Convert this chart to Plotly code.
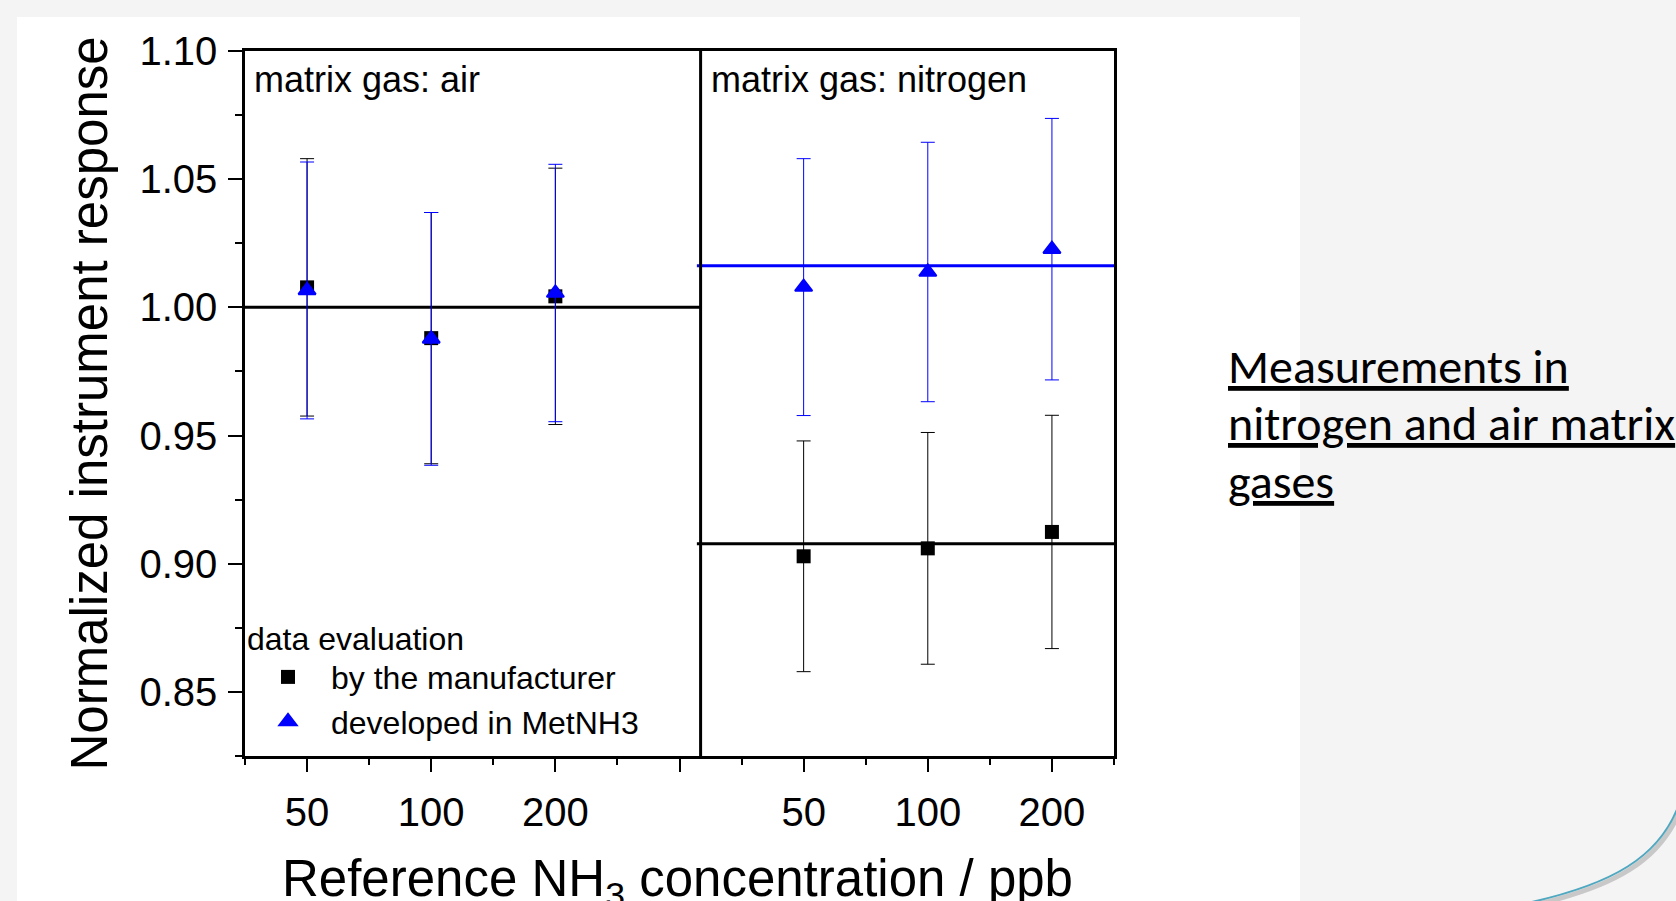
import plotly.graph_objects as go

# ---------------- data ----------------
categories = ["50", "100", "200"]
x_air = [1, 2, 3]
x_n2 = [5, 6, 7]
x_tick_vals = [1, 2, 3, 4, 5, 6, 7]
x_tick_text = ["50", "100", "200", "", "50", "100", "200"]

air_manufacturer = [1.0078, 0.9880, 1.0043]
air_manufacturer_err = [0.0502, 0.0490, 0.0500]
air_metnh3 = [1.0066, 0.9877, 1.0056]
air_metnh3_err = [0.0501, 0.0493, 0.0502]

n2_manufacturer = [0.9029, 0.9060, 0.9124]
n2_manufacturer_err = [0.0450, 0.0452, 0.0455]
n2_metnh3 = [1.0079, 1.0138, 1.0227]
n2_metnh3_err = [0.0501, 0.0506, 0.0510]

air_mean = 1.000
n2_manufacturer_mean = 0.9078
n2_metnh3_mean = 1.0162

panel_split = 4.17
x_range = [0.5, 7.5]
y_range = [0.825, 1.10]
y_tick_vals = [0.85, 0.90, 0.95, 1.00, 1.05, 1.10]
y_tick_text = ["0.85", "0.90", "0.95", "1.00", "1.05", "1.10"]

# ---------------- layout helpers ----------------
W_PX, H_PX = 1676, 901
L, R, T, B = 245, 1114, 51, 756
PW, PH = R - L, B - T


def px(x):
    return (x - L) / PW


def py(y):
    return (B - y) / PH


ARIAL = "Liberation Sans, Arial, sans-serif"
BLUE = "#0000ff"

fig = go.Figure()

# mean lines
fig.add_trace(go.Scatter(x=[x_range[0], panel_split], y=[air_mean, air_mean], mode="lines",
                         line=dict(color="black", width=3), showlegend=False, hoverinfo="skip"))
fig.add_trace(go.Scatter(x=[panel_split - 0.03, x_range[1]], y=[n2_manufacturer_mean] * 2, mode="lines",
                         line=dict(color="black", width=3), showlegend=False, hoverinfo="skip"))
fig.add_trace(go.Scatter(x=[panel_split - 0.03, x_range[1]], y=[n2_metnh3_mean] * 2, mode="lines",
                         line=dict(color=BLUE, width=3), showlegend=False, hoverinfo="skip"))

# manufacturer (black squares)
fig.add_trace(go.Scatter(
    x=x_air + x_n2, y=air_manufacturer + n2_manufacturer, mode="markers",
    name="by the manufacturer",
    marker=dict(symbol="square", size=14, color="black"),
    error_y=dict(type="data", array=air_manufacturer_err + n2_manufacturer_err,
                 color="black", thickness=1, width=7),
))
# MetNH3 (blue triangles)
fig.add_trace(go.Scatter(
    x=x_air + x_n2, y=air_metnh3 + n2_metnh3, mode="markers",
    name="developed in MetNH3",
    marker=dict(symbol="triangle-up", size=15, color=BLUE, line=dict(color=BLUE, width=2)),
    error_y=dict(type="data", array=air_metnh3_err + n2_metnh3_err,
                 color=BLUE, thickness=1, width=7),
))

shapes = [
    # white slide panel
    dict(type="rect", xref="paper", yref="paper", x0=px(17), x1=px(1300), y0=py(17), y1=py(905),
         fillcolor="white", line=dict(width=0), layer="below"),
    # panel divider
    dict(type="line", xref="x", yref="paper", x0=panel_split, x1=panel_split, y0=0, y1=1,
         line=dict(color="black", width=3)),
]


# decorative arc bottom right (shadow + teal line)
def arc_path(dx=0, dy=0):
    pts = [(1682 + dx, 795 + dy), (1664 + dx, 858 + dy), (1610 + dx, 886 + dy), (1518 + dx, 905 + dy)]
    p = [(px(a), py(b)) for a, b in pts]
    return "M {} {} C {} {}, {} {}, {} {}".format(p[0][0], p[0][1], p[1][0], p[1][1],
                                                 p[2][0], p[2][1], p[3][0], p[3][1])


shapes.append(dict(type="path", xref="paper", yref="paper", path=arc_path(2, 3),
                   line=dict(color="rgba(0,0,0,0.18)", width=5)))
shapes.append(dict(type="path", xref="paper", yref="paper", path=arc_path(),
                   line=dict(color="#4fa8c0", width=2)))

annotations = [
    dict(text="matrix gas: air", x=px(252), y=py(80), xref="paper", yref="paper",
         xanchor="left", yanchor="middle", showarrow=False, font=dict(family=ARIAL, size=36, color="black")),
    dict(text="matrix gas: nitrogen", x=px(709), y=py(80), xref="paper", yref="paper",
         xanchor="left", yanchor="middle", showarrow=False, font=dict(family=ARIAL, size=36, color="black")),
    dict(text="Normalized instrument response", x=px(89), y=0.5, xref="paper", yref="paper",
         xanchor="center", yanchor="middle", textangle=-90, showarrow=False,
         font=dict(family=ARIAL, size=51, color="black")),
    dict(text="Reference NH<sub>3</sub> concentration / ppb", x=px(677), y=py(882), xref="paper", yref="paper",
         xanchor="center", yanchor="middle", showarrow=False,
         font=dict(family=ARIAL, size=51, color="black")),
]

side_lines = ["Measurements in", "nitrogen and air matrix", "gases"]
side_y = [366, 423, 481]
for txt, yy in zip(side_lines, side_y):
    annotations.append(dict(text="<u>" + txt + "</u>", x=px(1226), y=py(yy), xref="paper", yref="paper",
                            xanchor="left", yanchor="middle", showarrow=False,
                            font=dict(family="Carlito, Calibri, Lato, sans-serif", size=48, color="black")))

fig.update_layout(
    width=W_PX, height=H_PX,
    margin=dict(l=L, r=W_PX - R, t=T, b=H_PX - B, pad=0),
    paper_bgcolor="#f4f4f4", plot_bgcolor="white",
    shapes=shapes, annotations=annotations,
    showlegend=True,
    legend=dict(x=px(245), y=py(608), xanchor="left", yanchor="top",
                bgcolor="rgba(0,0,0,0)", borderwidth=0,
                font=dict(family=ARIAL, size=32, color="black"),
                title=dict(text="data evaluation", font=dict(family=ARIAL, size=32, color="black")),
                itemwidth=76, tracegroupgap=0),
    xaxis=dict(range=x_range, tickmode="array", tickvals=x_tick_vals, ticktext=x_tick_text,
               showgrid=False, zeroline=False, showline=True, linecolor="black", linewidth=2.5,
               mirror=True, ticks="outside", ticklen=13, tickwidth=2, tickcolor="black",
               tickfont=dict(family=ARIAL, size=40, color="black"), ticklabelstandoff=6,
               minor=dict(tick0=0.5, dtick=1, ticks="outside", ticklen=6, tickwidth=2, tickcolor="black")),
    yaxis=dict(range=y_range, tickmode="array", tickvals=y_tick_vals, ticktext=y_tick_text,
               showgrid=False, zeroline=False, showline=True, linecolor="black", linewidth=2.5,
               mirror=True, ticks="outside", ticklen=14, tickwidth=2, tickcolor="black",
               tickfont=dict(family=ARIAL, size=40, color="black"), ticklabelstandoff=3,
               minor=dict(tick0=0.825, dtick=0.025, ticks="outside", ticklen=7, tickwidth=2, tickcolor="black")),
)

fig.write_html("out.html")
